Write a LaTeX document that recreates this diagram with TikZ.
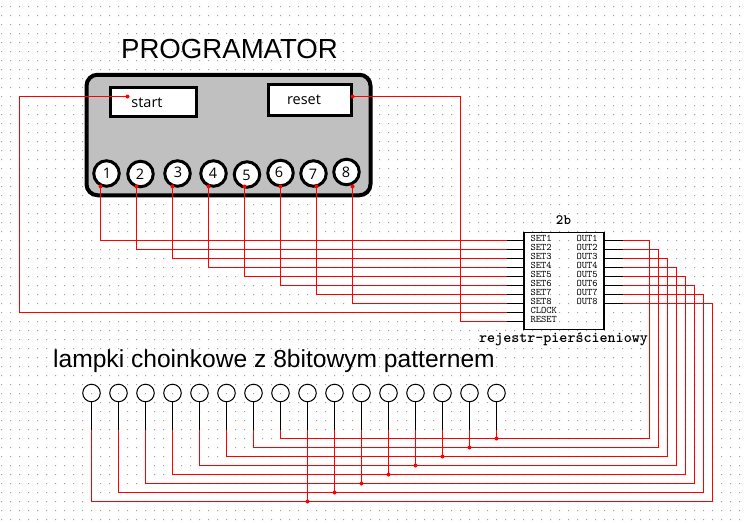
\documentclass[tikz,border=0pt]{standalone}
\usepackage{fontspec}
\setmainfont{Liberation Sans}
\newfontfamily\uifont{Open Sans}
\definecolor{progray}{HTML}{C0C0C0}
\definecolor{griddot}{HTML}{A0A0A0}
\tikzset{
  wire/.style={draw=red,line width=1.1pt},
  pinline/.style={draw=black,line width=1.1pt},
  jdot/.style={fill=red,circle,inner sep=0pt,minimum size=4pt},
  progbody/.style={draw=black,fill=progray,line width=4pt,rounded corners=11pt},
  btn/.style={draw=black,fill=white,line width=3pt,inner sep=0pt},
  btnlbl/.style={inner sep=0pt,font=\uifont\fontsize{14.5}{15}\selectfont},
  knob/.style={draw=black,fill=white,circle,line width=3pt,minimum size=25.5pt,inner sep=0pt},
  lamp/.style={draw=black,circle,line width=1pt,minimum size=17.5pt,inner sep=0pt},
  chipbox/.style={draw=black,line width=1.1pt,inner sep=0pt,minimum width=80pt,minimum height=97pt},
  pinlbl/.style={font=\ttfamily\fontsize{10}{10}\selectfont,inner sep=0pt,anchor=west},
  title/.style={inner sep=0pt}
}
\begin{document}
\begin{tikzpicture}[x=1pt,y=-1pt]
\useasboundingbox (0,0) rectangle (744,522);
\fill[white] (0,0) rectangle (744,522);
% dotted grid
\fill[griddot] foreach \i in {0,...,82} { foreach \j in {0,...,57} { ({1+9*\i},{6+9*\j}) rectangle ++(1,1) } };
\begin{scope}[shift={(0.5,0.5)}]
% titles
\node[title,font=\fontsize{27.6}{28}\selectfont] (ttl) at (229,48) {PROGRAMATOR};
\node[title,font=\fontsize{24.6}{25}\selectfont] (ltl) at (273.5,361) {lampki choinkowe z 8bitowym patternem};
% programmer
\node[progbody,minimum width=284pt,minimum height=120.5pt,inner sep=0pt] (prog) at (228,134.5) {};
\node[btn,minimum width=86pt,minimum height=29pt] (startb) at (153,101.5) {};
\node[btn,minimum width=83pt,minimum height=31pt] (resetb) at (309.5,99.5) {};
\node[btnlbl] (startt) at (146.5,102) {start};
\node[btnlbl] (resett) at (303.5,99.5) {reset};
\coordinate (sd) at (127,96);
\coordinate (rd) at (352,96);
\foreach \n/\cx/\cy/\tx/\ty in {1/106/173/106.5/172.5,2/140/173.5/139.5/174,3/177/173/177.5/171.5,4/213/173/212.5/173,5/246.5/174/246/174.5,6/280/172.5/278.5/172,7/313/173/312.5/174,8/346/171.5/345.5/171.5}{
  \node[knob] (k\n) at (\cx,\cy) {};
  \node[btnlbl] (kt\n) at (\tx,\ty) {\n};
}
% chip
\node[chipbox] (chip) at (563.5,280.5) {};
\node[inner sep=0pt,font=\ttfamily\bfseries\fontsize{14.3}{15}\selectfont] (cname) at (563,220) {2b};
\node[inner sep=0pt,font=\ttfamily\bfseries\fontsize{15.3}{16}\selectfont] (cdesc) at (563,339) {rejestr-pierścieniowy};
\foreach \n in {1,...,8}{
  \pgfmathsetmacro{\yy}{231+9*\n}
  \pgfmathsetmacro{\xp}{91+36*(\n-1)+9}
  \pgfmathsetmacro{\xv}{640+9*\n}
  \pgfmathsetmacro{\yb}{429+9*\n}
  \coordinate (sp\n) at (chip.west |- 0,\yy);
  \coordinate (sb\n) at (506,\yy);
  \coordinate (op\n) at (chip.east |- 0,\yy);
  \coordinate (ob\n) at (622,\yy);
  \coordinate (kd\n) at (\xp,186);
  \coordinate (ktn\n) at (\xp,\yy);
  \coordinate (ov\n) at (\xv,\yy);
  \coordinate (oc\n) at (\xv,\yb);
  \node[pinlbl] (ls\n) at (530,{\yy-2.5}) {SET\n};
  \node[pinlbl] (lo\n) at (576,{\yy-2.5}) {OUT\n};
  \draw[pinline] (sp\n) -- (sb\n);
  \draw[pinline] (op\n) -- (ob\n);
  \draw[wire] (kd\n) -- (ktn\n) -- (sb\n);
  \node[jdot] at (kd\n) {};
  \draw[wire] (ob\n) -- (ov\n) -- (oc\n);
}
\node[pinlbl] (lclk) at (530,309.5) {CLOCK};
\node[pinlbl] (lrst) at (530,318.5) {RESET};
\coordinate (cp) at (chip.west |- 0,312);
\coordinate (cb) at (506,312);
\coordinate (rp) at (chip.west |- 0,321);
\coordinate (rb) at (506,321);
\draw[pinline] (cp) -- (cb);
\draw[pinline] (rp) -- (rb);
\draw[wire] (sd) -- (19,96) -- (19,312) -- (cb);
\draw[wire] (rd) -- (460,96) -- (460,321) -- (rb);
\node[jdot] at (sd) {};
\node[jdot] at (rd) {};
% lamps
\foreach \n in {1,...,16}{
  \pgfmathsetmacro{\lx}{64+27*\n}
  \node[lamp] (l\n) at (\lx,392.5) {};
  \coordinate (lb\n) at (\lx,429);
  \draw[pinline] (l\n.south) -- (lb\n);
}
\foreach \a/\b/\o in {1/9/8,2/10/7,3/11/6,4/12/5,5/13/4,6/14/3,7/15/2,8/16/1}{
  \pgfmathsetmacro{\yb}{429+9*(9-\a)}
  \pgfmathsetmacro{\xa}{64+27*\a}
  \pgfmathsetmacro{\xc}{64+27*\b}
  \coordinate (ja\a) at (\xa,\yb);
  \coordinate (jb\a) at (\xc,\yb);
  \draw[wire] (lb\a) -- (ja\a) -- (oc\o);
  \draw[wire] (lb\b) -- (jb\a);
  \node[jdot] at (jb\a) {};
}
\end{scope}
\end{tikzpicture}
\end{document}
